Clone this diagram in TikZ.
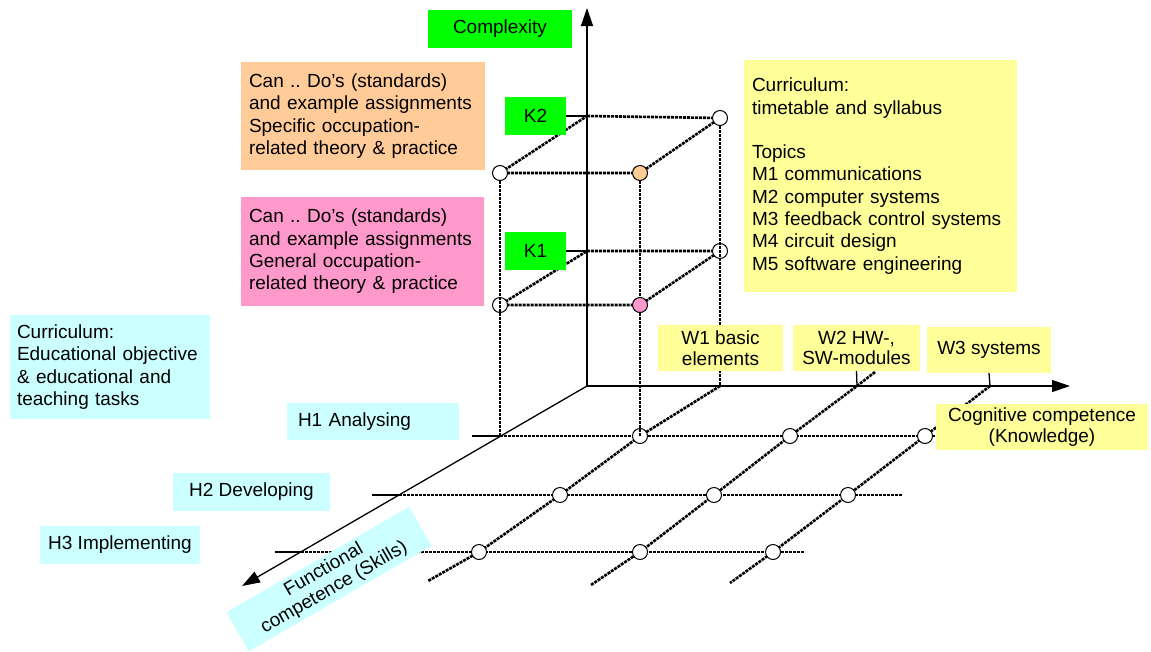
\documentclass[tikz,border=0pt]{standalone}
\usepackage{fontspec}
\setmainfont{Liberation Sans}
\usetikzlibrary{arrows.meta}
\definecolor{lime}{HTML}{00FF00}
\definecolor{peach}{HTML}{FFCC99}
\definecolor{rose}{HTML}{FF99CC}
\definecolor{lemon}{HTML}{FFFF99}
\definecolor{ice}{HTML}{CCFFFF}
\frenchspacing

\begin{document}
\begin{tikzpicture}[x=1pt,y=-1pt,
  every node/.style={font=\fontsize{19}{22.3}\selectfont, text=black},
  axis/.style={line width=1.3pt,-{Triangle[length=18pt,width=12pt]}},
  rule/.style={line width=1.3pt},
  dotline/.style={line width=2.6pt, dash pattern=on 3pt off 1pt},
  tag/.style={rectangle, inner sep=0pt, draw=none},
  circ/.style={circle, draw, line width=1pt, fill=white, minimum size=15pt, inner sep=0pt},
  twoline/.style={font=\fontsize{19}{20.5}\selectfont, align=center}
]
\useasboundingbox (0,0) rectangle (1151,651);
\fill[white] (0,0) rectangle (1151,651);

% axes
\coordinate (O) at (587,386);
\coordinate (Ztip) at (587,8);
\coordinate (Xtip) at (1070,386);
\coordinate (Ytip) at (242,586);

% cube corners
\coordinate (BL2) at (587,116);
\coordinate (BL1) at (587,251);
\coordinate (BR2) at (720,118);
\coordinate (BR1) at (720,251);
\coordinate (BR0) at (720,386);
\coordinate (FL2) at (500,173);
\coordinate (FL1) at (500,305);
\coordinate (FL0) at (500,436);
\coordinate (FR2) at (640,173);
\coordinate (FR1) at (640,305);
\coordinate (FR0) at (640,436);

% skill/knowledge grid
\coordinate (g12) at (790,436);
\coordinate (g13) at (925,436);
\coordinate (g21) at (560,495);
\coordinate (g22) at (714,495);
\coordinate (g23) at (848,495);
\coordinate (g31) at (479,552);
\coordinate (g32) at (640,552);
\coordinate (g33) at (773,552);
\coordinate (W2) at (857,386);
\coordinate (W3) at (990,386);
\coordinate (W2top) at (875,372);
\coordinate (e1) at (428,581);
\coordinate (e2) at (591,585);
\coordinate (e3) at (730,583);
\coordinate (h1s) at (472,436);
\coordinate (h1e) at (936,436);
\coordinate (h2s) at (372,495);
\coordinate (h2a) at (399,495);
\coordinate (h2e) at (902,495);
\coordinate (h3s) at (275,552);
\coordinate (h3a) at (301,552);
\coordinate (h3e) at (805,552);

\draw[axis] (O) -- (Ztip);
\draw[axis] (O) -- (Xtip);
\draw[axis] (O) -- (Ytip);

% cube faces
\draw[dotline] (BL2) -- (BR2) -- (FR2) -- (FL2) -- cycle;
\draw[dotline] (BL1) -- (BR1) -- (FR1) -- (FL1) -- cycle;
\draw[dotline] (FL2) -- (FL0);
\draw[dotline] (FR2) -- (FR1);
\draw[dotline] (BR2) -- (BR0);

% rows of the grid
\draw[rule] (h1s) -- (FL0);
\draw[dotline] (FL0) -- (h1e);
\draw[rule] (h2s) -- (h2a);
\draw[dotline] (h2a) -- (h2e);
\draw[rule] (h3s) -- (h3a);
\draw[dotline] (h3a) -- (h3e);

% columns of the grid
\draw[dotline] (BR0) -- (FR0) -- (g21) -- (g31) -- (e1);
\draw[dotline] (W2top) -- (W2) -- (g12) -- (g22) -- (g32) -- (e2);
\draw[dotline] (W3) -- (g13) -- (g23) -- (g33) -- (e3);

% points
\node[circ] (cBR2) at (BR2) {};
\node[circ] (cFL2) at (FL2) {};
\node[circ, fill=peach] (cFR2) at (FR2) {};
\node[circ] (cBR1) at (BR1) {};
\node[circ] (cFL1) at (FL1) {};
\node[circ, fill=rose] (cFR1) at (FR1) {};
\node[circ] (cFR0) at (FR0) {};
\node[circ] (cg12) at (g12) {};
\node[circ] (cg13) at (g13) {};
\node[circ] (cg21) at (g21) {};
\node[circ] (cg22) at (g22) {};
\node[circ] (cg23) at (g23) {};
\node[circ] (cg31) at (g31) {};
\node[circ] (cg32) at (g32) {};
\node[circ] (cg33) at (g33) {};

% verticals running over the lower points
\draw[dotline] (cFL2.south) -- (FL0);
\draw[dotline] (cFR1.south) -- (FR0);
\draw[dotline] (cBR2.south) -- (BR0);

% labels
\node[tag, fill=lime, minimum width=144, minimum height=38] (complexity) at (500,29) {Complexity};
\node[tag, fill=lime, minimum width=61, minimum height=38] (K2) at (535.5,116) {K2};
\node[tag, fill=lime, minimum width=61, minimum height=38] (K1) at (535.5,251) {K1};
\draw[rule] (K2.east) -- (BL2);
\draw[rule] (K1.east) -- (BL1);

\node[tag, fill=peach, minimum width=244, minimum height=108, text width=228, align=left] (spec) at (363,116)
  {Can .. Do’s (standards)\\and example assignments\\Specific occupation-\\related theory \& practice};
\node[tag, fill=rose, minimum width=243, minimum height=109, text width=227, align=left] (gen) at (362.5,251.5)
  {Can .. Do’s (standards)\\and example assignments\\General occupation-\\related theory \& practice};
\node[tag, fill=lemon, minimum width=273, minimum height=232, text width=257, align=left] (syllabus) at (880.5,176)
  {Curriculum:\\timetable and syllabus\\[22.3pt]Topics\\M1 communications\\M2 computer systems\\M3 feedback control systems\\M4 circuit design\\M5 software engineering};
\node[tag, fill=ice, minimum width=200, minimum height=104, text width=186, align=left] (objective) at (110,367)
  {Curriculum:\\Educational objective\\\& educational and\\teaching tasks};

\node[tag, fill=ice, minimum width=172, minimum height=37, text width=150, align=left] (H1) at (373,421.5) {H1 Analysing};
\node[tag, fill=ice, minimum width=157, minimum height=38] (H2) at (251.5,492) {H2 Developing};
\node[tag, fill=ice, minimum width=160, minimum height=38] (H3) at (120,545) {H3 Implementing};

\node[tag, fill=lemon, minimum width=125, minimum height=46, twoline] (W1box) at (720.5,348) {W1 basic\\elements};
\node[tag, fill=lemon, minimum width=127, minimum height=46, twoline] (W2box) at (856.5,348) {W2 HW-,\\SW-modules};
\node[tag, fill=lemon, minimum width=124, minimum height=46] (W3box) at (989,350) {W3 systems};
\draw[rule] (W2box.south) -- (W2);
\draw[rule] (W3box.south) -- (W3);

\node[tag, fill=lemon, minimum width=212, minimum height=46, twoline] (cognitive) at (1042,427)
  {Cognitive competence\\(Knowledge)};
\node[tag, fill=ice, minimum width=211, minimum height=45, rotate=30, twoline] (functional) at (329,579)
  {Functional\\competence (Skills)};
\end{tikzpicture}
\end{document}
